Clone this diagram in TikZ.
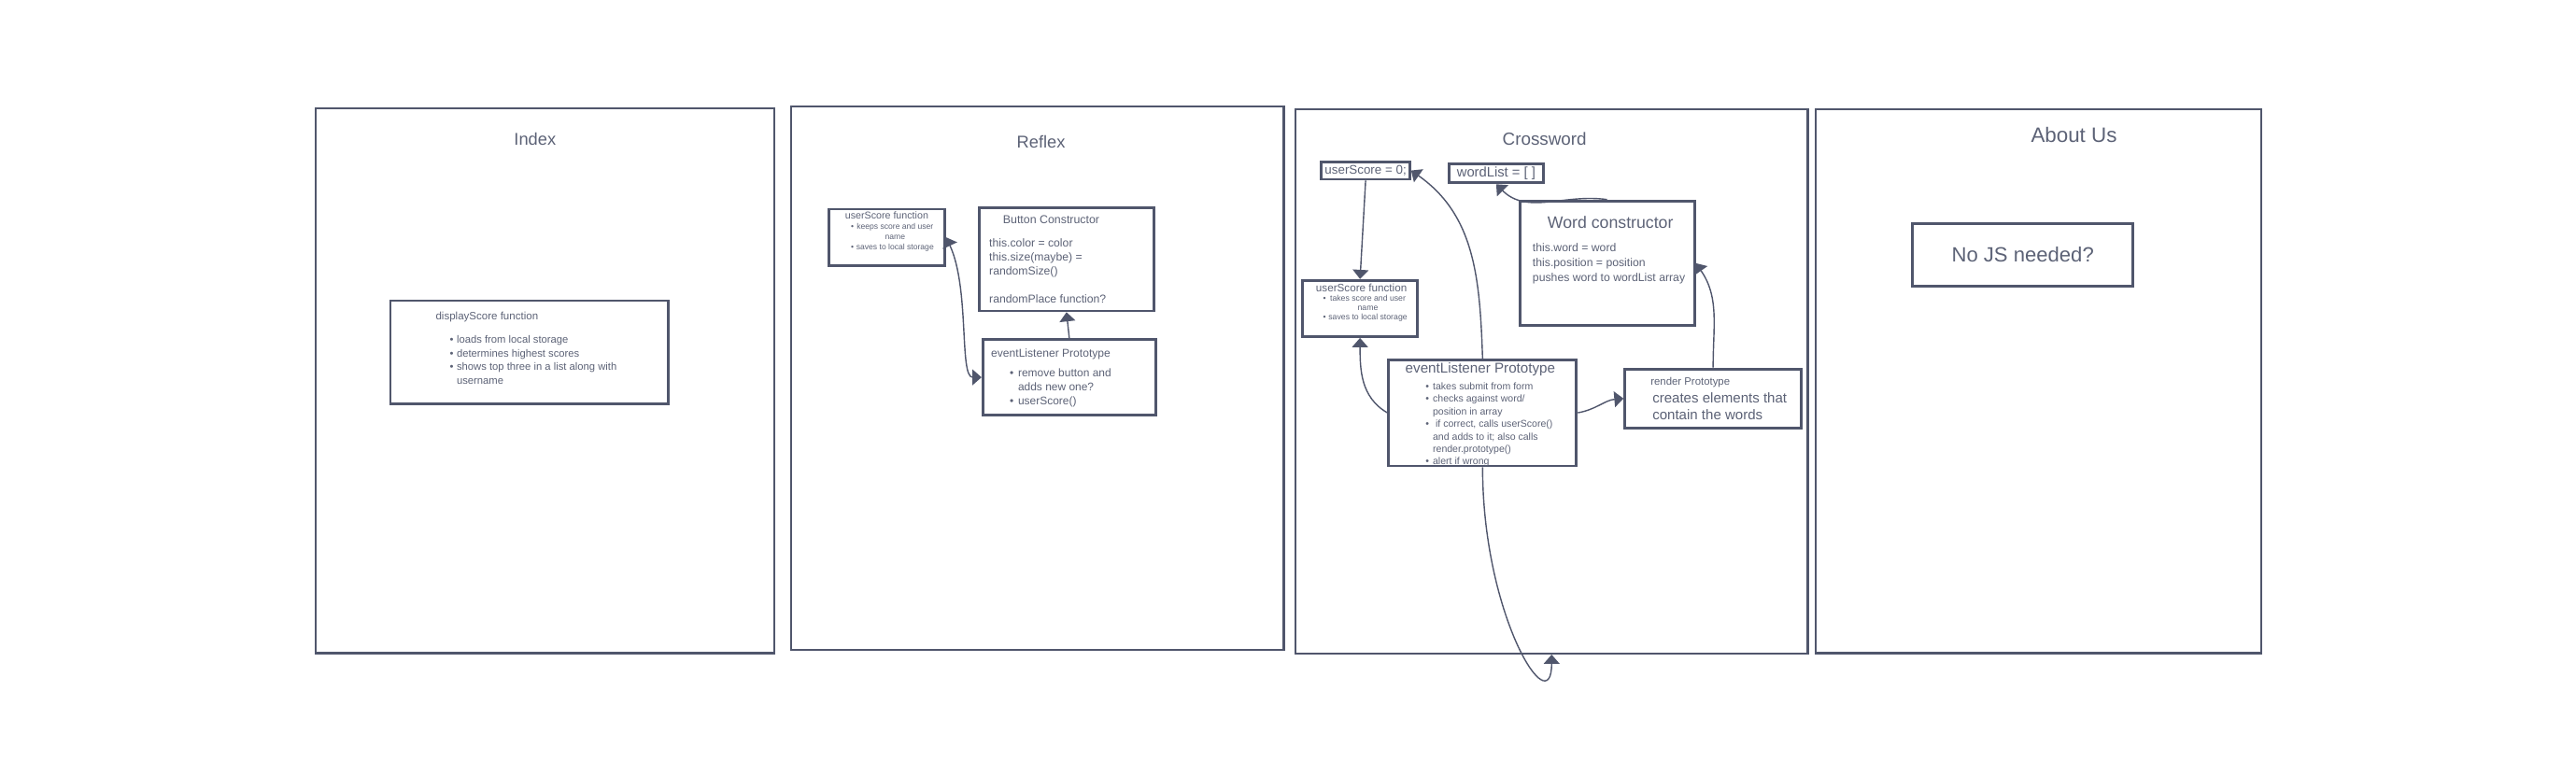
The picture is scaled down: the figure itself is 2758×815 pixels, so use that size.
\documentclass[tikz,border=0pt]{standalone}
\usepackage{fontspec}
\setmainfont{Liberation Sans}
\usetikzlibrary{arrows.meta, positioning}
\definecolor{linecol}{RGB}{80,86,108}
\definecolor{textcol}{RGB}{92,98,118}
\newcommand{\sz}[2]{\fontsize{#1}{#2}\selectfont}
\tikzset{
    frame/.style={rectangle, draw=linecol, line width=1.7pt, anchor=north west, inner sep=0pt},
    block/.style={rectangle, draw=linecol, line width=2pt, anchor=north west, inner sep=0pt},
    size/.style 2 args={minimum width=#1*0.25mm, minimum height=#2*0.25mm},
    txt/.style={text=textcol, inner sep=0pt},
    arrow/.style={draw=linecol, line width=1pt, -{Triangle[length=7pt, width=12pt]}},
    twoway/.style={draw=linecol, line width=1pt, {Triangle[length=7pt, width=12pt]}-{Triangle[length=7pt, width=12pt]}}
}

\begin{document}
\begin{tikzpicture}[x=0.025cm, y=0.025cm]
    \useasboundingbox (0,0) rectangle (2758,-815);

    % pages
    \node[frame, size={490.5}{583.5}] (ix) at (337,-114.8) {};
    \node[frame, size={527.3}{581.5}] (rf) at (845.9,-112.9) {};
    \node[frame, size={548.2}{582.7}] (cw) at (1385.9,-115.8) {};
    \node[frame, size={476.5}{582.5}] (ab) at (1943,-115.8) {};

    \node[txt, anchor=base] (ixtitle) at (572.8,-155) {\sz{13}{15}Index};
    \node[txt, anchor=base] (rftitle) at (1114.6,-158.9) {\sz{13}{15}Reflex};
    \node[txt, anchor=base] (cwtitle) at (1653.7,-155.2) {\sz{13.4}{15}Crossword};
    \node[txt, anchor=base] (abtitle) at (2220.5,-152.5) {\sz{15.9}{18}About Us};

    % Index
    \node[block, size={297.5}{110.8}] (ds) at (416.5,-320.5) {};
    \node[txt, anchor=base west] (dstitle) at (466.3,-342.5) {\sz{8.2}{10}displayScore function};
    \node[txt, anchor=north west] (dslist) at (481.3,-357.1) {\sz{8}{10.4}%
        \begin{tabular}{@{}l@{\hspace{2.5pt}}l@{}}
            \textbullet & loads from local storage\\
            \textbullet & determines highest scores\\
            \textbullet & shows top three in a list along with\\
                        & username
        \end{tabular}};

    % Reflex
    \node[block, size={124.4}{60.3}] (usR) at (885.7,-222.6) {};
    \node[txt, anchor=base] (usRtitle) at (949.4,-234.4) {\sz{7.6}{9}userScore function};
    \node[txt, anchor=north] (usRlist) at (955.4,-237.8) {\sz{6.1}{7.8}%
        \begin{tabular}{@{}c@{\hspace{2pt}}c@{}}
            \textbullet & keeps score and user\\
                        & name\\
            \textbullet & saves to local storage
        \end{tabular}};

    \node[block, size={187}{110.8}] (bc) at (1046.9,-220.7) {};
    \node[txt, anchor=base] (bctitle) at (1125.5,-239) {\sz{8.8}{10}Button Constructor};
    \node[txt, anchor=north west] (bclines) at (1058.9,-253.2) {\sz{8.7}{10.7}%
        \begin{tabular}{@{}l@{}}
            this.color = color\\
            this.size(maybe) =\\
            randomSize()\\
            \\
            randomPlace function?
        \end{tabular}};

    \node[block, size={185}{81.1}] (elR) at (1050.9,-362.1) {};
    \node[txt, anchor=base west] (elRtitle) at (1060.9,-382.3) {\sz{8.6}{10}eventListener Prototype};
    \node[txt, anchor=north west] (elRlist) at (1080.8,-392.5) {\sz{8.5}{10.7}%
        \begin{tabular}{@{}l@{\hspace{3.4pt}}l@{}}
            \textbullet & remove button and\\
                        & adds new one?\\
            \textbullet & userScore()
        \end{tabular}};

    \path[arrow] (elR.north) -- (bc.south);
    \path[twoway] (usR.east) to[out=-65, in=180, in looseness=0.4] (elR.west);

    % Crossword
    \node[block, size={94.5}{18.8}, anchor=center, text=textcol] (us0) at (1462.1,-182.6) {\sz{9.5}{11}userScore = 0;};
    \node[block, size={101.5}{20.8}, anchor=center, text=textcol] (wl) at (1601.9,-185.5) {\sz{10.5}{12}wordList = [ ]};

    \node[block, size={187}{133.5}] (wc) at (1625.7,-213.7) {};
    \node[txt, anchor=base] (wctitle) at (1724.2,-244.8) {\sz{12.6}{14}Word constructor};
    \node[txt, anchor=north west] (wclines) at (1640.7,-258.4) {\sz{8.7}{11.4}%
        \begin{tabular}{@{}l@{}}
            this.word = word\\
            this.position = position\\
            pushes word to wordList array
        \end{tabular}};

    \node[block, size={123.4}{60.3}] (usf) at (1393,-298.8) {};
    \node[txt, anchor=base] (usftitle) at (1457.6,-312.8) {\sz{8.3}{10}userScore function};
    \node[txt, anchor=north] (usflist) at (1461.6,-315.7) {\sz{6.2}{7.1}%
        \begin{tabular}{@{}c@{\hspace{2pt}}c@{}}
            \textbullet & takes score and user\\
                        & name\\
            \textbullet & saves to local storage
        \end{tabular}};

    \node[block, size={201}{113.7}] (elC) at (1485.4,-383.8) {};
    \node[txt, anchor=base] (elCtitle) at (1584.9,-399.2) {\sz{10.8}{12}eventListener Prototype};
    \node[txt, anchor=north west] (elClist) at (1526.2,-408) {\sz{7.5}{9.5}%
        \begin{tabular}{@{}l@{\hspace{2.8pt}}l@{}}
            \textbullet & takes submit from form\\
            \textbullet & checks against word/\\
                        & position in array\\
            \textbullet & \ if correct, calls userScore()\\
                        & and adds to it; also calls\\
                        & render.prototype()\\
            \textbullet & alert if wrong
        \end{tabular}};

    \node[block, size={189}{63.3}] (rp) at (1738.2,-393.7) {};
    \node[txt, anchor=base west] (rptitle) at (1767,-412.6) {\sz{8.1}{10}render Prototype};
    \node[txt, anchor=north west] (rplines) at (1769,-418.3) {\sz{10.7}{12.8}%
        \begin{tabular}{@{}l@{}}
            creates elements that\\
            contain the words
        \end{tabular}};

    \path[arrow] (us0.south) -- (usf.north);
    \path[arrow] (elC.west) to[out=150, in=-90] (usf.south);
    \path[arrow] (elC.north) to[out=92, in=-35] (us0.east);
    \path[arrow] (elC.east) to[out=10, in=185] (rp.west);
    \path[arrow] (rp.north) to[out=90, in=-55] (wc.east);
    \path[arrow] (wc.north) to[out=172, in=-45] (wl.south);
    \path[arrow] (elC.south) .. controls +(0,-160) and +(0,-75) .. (cw.south);

    % About Us
    \node[block, size={235.8}{67.3}, anchor=center, text=textcol] (nojs) at (2165.7,-273.1) {\sz{15.7}{18}No JS needed?};
\end{tikzpicture}
\end{document}
